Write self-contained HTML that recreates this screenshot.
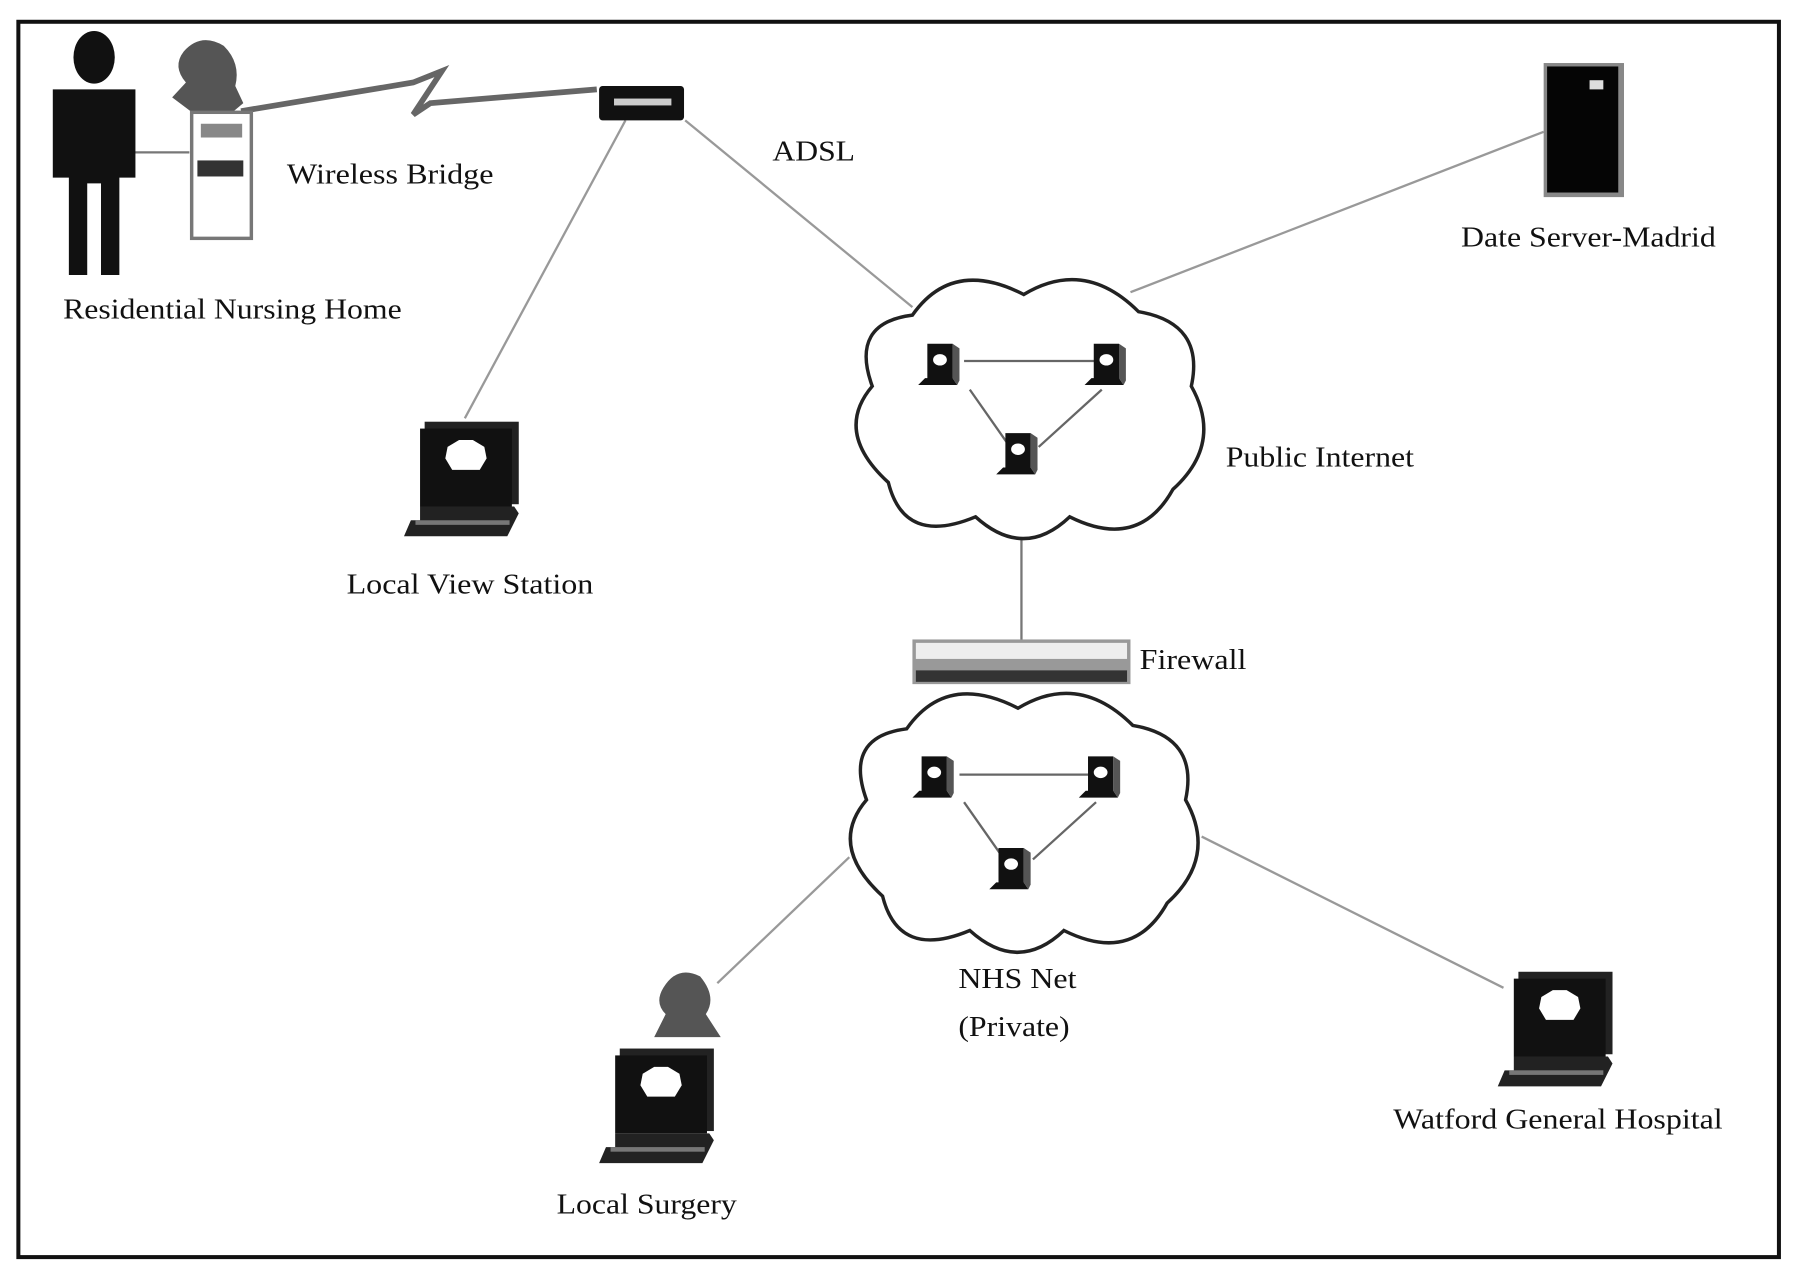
<!DOCTYPE html>
<html><head><meta charset="utf-8"><style>
html,body{margin:0;padding:0;background:#fff;}
svg{display:block;}
text{font-family:"Liberation Serif",serif;font-size:25px;fill:#111;}
</style></head><body>
<svg width="1795" height="1272" viewBox="0 0 1564 1110" preserveAspectRatio="none" xmlns="http://www.w3.org/2000/svg">
<defs>
<path id="cloud" d="M55,38 Q90,-12 152,20 Q205,-12 252,35 Q310,45 298,100 Q326,150 282,190 Q252,244 192,214 Q152,252 110,214 Q48,240 34,184 Q-14,140 20,100 Q0,45 55,38 Z" fill="#fff" stroke="#222" stroke-width="3"/>
<g id="node">
<path d="M8,0 H30 V30 L34,36 H0 L6,30 H8 Z" fill="#111"/>
<path d="M30,0 L36,4 V32 L34,36 L30,30 Z" fill="#555"/>
<ellipse cx="19" cy="14" rx="6" ry="5" fill="#fff"/>
</g>
<g id="laptop">
<rect x="18" y="0" width="82" height="72" fill="#222"/>
<rect x="14" y="6" width="80" height="68" fill="#111"/>
<path d="M38,22 L48,16 H60 L70,22 L72,32 L66,42 H42 L36,32 Z" fill="#fff"/>
<path d="M14,74 H96 L100,80 L90,100 H0 L6,86 H14 Z" fill="#222"/>
<rect x="10" y="86" width="82" height="4" fill="#777"/>
</g>
</defs>
<rect x="16" y="19" width="1534" height="1078" fill="#fff" stroke="#111" stroke-width="3.5"/>
<g stroke="#999" stroke-width="2" fill="none">
<line x1="545" y1="105" x2="405" y2="365"/>
<line x1="597" y1="105" x2="795" y2="268"/>
<line x1="1345" y1="115" x2="985" y2="255"/>
<line x1="740" y1="748" x2="625" y2="858"/>
<line x1="1047" y1="730" x2="1310" y2="862"/>
<line x1="110" y1="133" x2="165" y2="133" stroke="#777"/>
</g>
<line x1="890" y1="466" x2="890" y2="560" stroke="#777" stroke-width="2"/>
<path d="M210,97 L360,72 L385,62 L360,100 L375,90 L520,78" fill="none" stroke="#666" stroke-width="5"/>
<ellipse cx="82" cy="50" rx="18" ry="23" fill="#111"/>
<path d="M46,78 H118 V155 H104 V240 H88 V160 H76 V240 H60 V155 H46 Z" fill="#111"/>
<path d="M160,45 Q175,28 195,40 Q210,55 205,75 L212,90 L200,100 H170 L150,85 L162,72 Q150,58 160,45Z" fill="#555"/>
<rect x="167" y="98" width="52" height="110" fill="#fff" stroke="#777" stroke-width="3"/>
<rect x="175" y="108" width="36" height="12" fill="#888"/>
<rect x="172" y="140" width="40" height="14" fill="#333"/>
<rect x="522" y="75" width="74" height="30" rx="3" fill="#111"/>
<rect x="535" y="86" width="50" height="6" fill="#ccc"/>
<rect x="1345" y="55" width="70" height="117" fill="#888"/>
<rect x="1348" y="58" width="62" height="110" fill="#050505"/>
<rect x="1385" y="70" width="12" height="8" fill="#ddd"/>
<use href="#cloud" x="740" y="237"/>
<use href="#cloud" x="735" y="598"/>
<g stroke="#666" stroke-width="2">
<line x1="840" y1="315" x2="960" y2="315"/><line x1="845" y1="340" x2="880" y2="390"/><line x1="960" y1="340" x2="905" y2="390"/>
<line x1="836" y1="676" x2="956" y2="676"/><line x1="840" y1="700" x2="875" y2="750"/><line x1="955" y1="700" x2="900" y2="750"/>
</g>
<use href="#node" x="800" y="300"/><use href="#node" x="945" y="300"/><use href="#node" x="868" y="378"/>
<use href="#node" x="795" y="660"/><use href="#node" x="940" y="660"/><use href="#node" x="862" y="740"/>
<rect x="795" y="558" width="190" height="39" fill="#999"/>
<rect x="798" y="561" width="184" height="14" fill="#eee"/>
<rect x="798" y="585" width="184" height="10" fill="#333"/>
<use href="#laptop" x="352" y="368"/>
<use href="#laptop" x="1305" y="848"/>
<path d="M578,862 Q590,842 610,852 Q625,870 615,885 L628,905 H570 L580,885 Q570,875 578,862Z" fill="#555"/>
<use href="#laptop" x="522" y="915"/>
<text x="55" y="278" textLength="295" lengthAdjust="spacingAndGlyphs">Residential Nursing Home</text>
<text x="250" y="160" textLength="180" lengthAdjust="spacingAndGlyphs">Wireless Bridge</text>
<text x="673" y="140" textLength="72" lengthAdjust="spacingAndGlyphs">ADSL</text>
<text x="1273" y="215" textLength="222" lengthAdjust="spacingAndGlyphs">Date Server-Madrid</text>
<text x="1068" y="407" textLength="164" lengthAdjust="spacingAndGlyphs">Public Internet</text>
<text x="302" y="518" textLength="215" lengthAdjust="spacingAndGlyphs">Local View Station</text>
<text x="993" y="584" textLength="93" lengthAdjust="spacingAndGlyphs">Firewall</text>
<text x="835" y="862" textLength="103" lengthAdjust="spacingAndGlyphs">NHS Net</text>
<text x="835" y="904" textLength="97" lengthAdjust="spacingAndGlyphs">(Private)</text>
<text x="485" y="1059" textLength="157" lengthAdjust="spacingAndGlyphs">Local Surgery</text>
<text x="1214" y="985" textLength="287" lengthAdjust="spacingAndGlyphs">Watford General Hospital</text>
</svg>
</body></html>
